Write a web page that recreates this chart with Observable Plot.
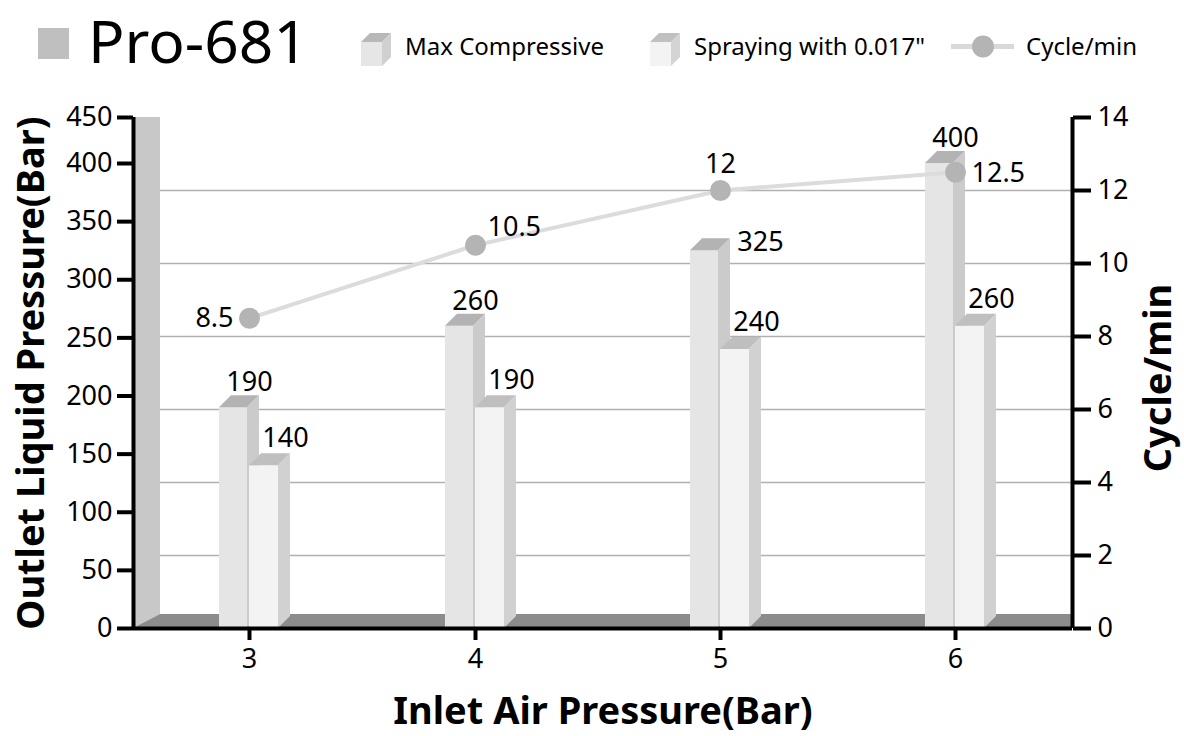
<!DOCTYPE html>
<html><head><meta charset="utf-8">
<script src="https://cdn.jsdelivr.net/npm/d3@7"></script>
<script src="https://cdn.jsdelivr.net/npm/@observablehq/plot@0.6"></script>
<style>
body{margin:0;background:#fff;font-family:"Noto Sans",sans-serif;}
#chart svg{display:block}
</style></head><body>
<div id="chart"></div>
<script>
// ---- data ----
const chartTitle = "Pro-681";
const pressures = [3, 4, 5, 6];
const maxCompressive = [190, 260, 325, 400];
const spraying = [140, 190, 240, 260];
const cycles = [8.5, 10.5, 12, 12.5];
const leftTicks = [0, 50, 100, 150, 200, 250, 300, 350, 400, 450];
const rightTicks = [0, 2, 4, 6, 8, 10, 12, 14];
const xTicks = [3, 4, 5, 6];
const seriesNames = ["Max Compressive", "Spraying with 0.017\"", "Cycle/min"];
const xLabel = "Inlet Air Pressure(Bar)";
const yLabel = "Outlet Liquid Pressure(Bar)";
const y2Label = "Cycle/min";

const rows = pressures.map((p, i) => ({p, max: maxCompressive[i], spray: spraying[i], cycle: cycles[i]}));

// ---- layout ----
const W = 1184, H = 648, HEAD = 88;
const X_DOMAIN = [2.5, 3, 4, 5, 6, 6.5];
const X_RANGE = [133, 249, 475, 720, 955, 1072];
const Y_DOMAIN = [0, 400, 450];
const Y_RANGE = [540, 75, 29];
const Y2_MAX = 14;
const D = 12, WALL = 27, FLOOR = 14;

const xS = Plot.scale({x: {type: "linear", domain: X_DOMAIN, range: X_RANGE}});
const yS = Plot.scale({y: {type: "linear", domain: Y_DOMAIN, range: Y_RANGE}});
const y2px = c => Y_RANGE[0] - c * (Y_RANGE[0] - Y_RANGE[2]) / Y2_MAX;
const cycToY = c => yS.invert(y2px(c));
const yToCyc = v => Math.round((Y_RANGE[0] - yS.apply(v)) * Y2_MAX / (Y_RANGE[0] - Y_RANGE[2]));
const xWallEnd = xS.invert(xS.apply(X_DOMAIN[0]) + WALL);

// ---- header (title + legend) ----
const head = d3.select("#chart").append("svg").attr("width", W).attr("height", HEAD)
  .style("font-family", "'Noto Sans', sans-serif");
head.append("rect").attr("x", 38).attr("y", 28).attr("width", 31).attr("height", 31).attr("fill", "#bfbfbf");
head.append("text").attr("x", 88).attr("y", 63).attr("font-size", 58).attr("textLength", 220)
  .attr("lengthAdjust", "spacingAndGlyphs").text(chartTitle);
function cube(x, front, top, side) {
  const y = 42, w = 21, h = 24, d = 9;
  head.append("path").attr("d", `M${x},${y}L${x+d},${y-d}L${x+w+d},${y-d}L${x+w},${y}Z`).attr("fill", top);
  head.append("path").attr("d", `M${x+w},${y}L${x+w+d},${y-d}L${x+w+d},${y+h-d}L${x+w},${y+h}Z`).attr("fill", side);
  head.append("rect").attr("x", x).attr("y", y).attr("width", w).attr("height", h).attr("fill", front);
}
cube(361, "#e6e6e6", "#b8b8b8", "#d0d0d0");
head.append("text").attr("x", 405).attr("y", 55).attr("font-size", 24).text(seriesNames[0]);
cube(650, "#f3f3f3", "#c0c0c0", "#d4d4d4");
head.append("text").attr("x", 694).attr("y", 55).attr("font-size", 24).text(seriesNames[1]);
head.append("line").attr("x1", 951).attr("x2", 1014).attr("y1", 46.5).attr("y2", 46.5)
  .attr("stroke", "#d9d9d9").attr("stroke-width", 5);
head.append("circle").attr("cx", 983).attr("cy", 46.5).attr("r", 11).attr("fill", "#b4b4b4");
head.append("text").attr("x", 1026).attr("y", 55).attr("font-size", 24).text(seriesNames[2]);

// ---- custom 3D pieces ----
const wallMark = (index, {x, y}) => {
  const x0 = x(X_DOMAIN[0]), yt = y(Y_DOMAIN.at(-1)), yb = y(0);
  const g = d3.create("svg:g");
  g.append("path").attr("d", `M${x0},${yt}L${x0+WALL},${yt}L${x0+WALL},${yb-FLOOR}L${x0},${yb}Z`).attr("fill", "#c8c8c8");
  return g.node();
};
const floorMark = (index, {x, y}) => {
  const x0 = x(X_DOMAIN[0]), x1 = x(X_DOMAIN.at(-1)), yb = y(0);
  const g = d3.create("svg:g");
  g.append("path").attr("d", `M${x0},${yb}L${x0+WALL},${yb-FLOOR}L${x1},${yb-FLOOR}L${x1},${yb}Z`).attr("fill", "#8c8c8c");
  return g.node();
};
function faces(key, off1, off2, topFill, sideFill) {
  return (index, {x, y}) => {
    const g = d3.create("svg:g");
    for (const r of rows) {
      const c = x(r.p), xa = c + off1, xb = c + off2;
      const yt = y(r[key]), yb = y(0);
      g.append("path").attr("d", `M${xa},${yt}L${xa+D},${yt-D}L${xb+D},${yt-D}L${xb},${yt}Z`).attr("fill", topFill);
      g.append("path").attr("d", `M${xb},${yt}L${xb+D},${yt-D}L${xb+D},${yb-D}L${xb},${yb}Z`).attr("fill", sideFill);
    }
    return g.node();
  };
}

const cycleLabelPlace = [
  {textAnchor: "end", dx: -16, dy: 0},
  {textAnchor: "start", dx: 12, dy: -18},
  {textAnchor: "middle", dx: 0, dy: -26},
  {textAnchor: "start", dx: 16, dy: 1}
];

const FS = 27;
const plot = Plot.plot({
  width: W, height: H,
  marginLeft: X_RANGE[0], marginRight: W - X_RANGE.at(-1), marginTop: Y_RANGE[2], marginBottom: H - Y_RANGE[0],
  style: {fontFamily: "'Noto Sans', sans-serif", background: "white", color: "#000", overflow: "visible"},
  x: {type: "linear", domain: X_DOMAIN, range: X_RANGE},
  y: {type: "linear", domain: Y_DOMAIN, range: Y_RANGE},
  marks: [
    Plot.ruleY(rightTicks.filter(t => t > 0 && t < Y2_MAX), {y: cycToY, x1: xWallEnd, x2: X_DOMAIN.at(-1), stroke: "#b0b0b0", strokeWidth: 1.6}),
    wallMark,
    floorMark,
    // Max Compressive bars
    Plot.rect(rows, {x1: "p", x2: "p", y1: 0, y2: "max", insetLeft: -30, insetRight: 2, fill: "#e5e5e5"}),
    faces("max", -30, -2, "#b3b3b3", "#cbcbcb"),
    // Spraying bars
    Plot.rect(rows, {x1: "p", x2: "p", y1: 0, y2: "spray", insetLeft: 0, insetRight: -29, fill: "#f3f3f3"}),
    faces("spray", 0, 29, "#bfbfbf", "#d1d1d1"),
    // cycle line
    Plot.line(rows, {x: "p", y: d => cycToY(d.cycle), stroke: "#dcdcdc", strokeWidth: 4}),
    Plot.dot(rows, {x: "p", y: d => cycToY(d.cycle), r: 10.5, fill: "#b4b4b4", stroke: "none"}),
    // value labels
    Plot.text(rows.filter(r => r.p !== 5), {x: "p", y: "max", text: d => String(d.max), dy: -25, fontSize: FS, fill: "#000"}),
    Plot.text(rows.filter(r => r.p === 5), {x: "p", y: "max", text: d => String(d.max), dx: 40, dy: -8, fontSize: FS, fill: "#000"}),
    Plot.text(rows, {x: "p", y: "spray", text: d => String(d.spray), dx: 36, dy: -27, fontSize: FS, fill: "#000"}),
    ...cycleLabelPlace.map((o, i) => Plot.text([rows[i]], {x: "p", y: d => cycToY(d.cycle), text: d => String(d.cycle), fontSize: FS, fill: "#000", ...o})),
    // frame
    Plot.ruleX([X_DOMAIN[0], X_DOMAIN.at(-1)], {stroke: "#000", strokeWidth: 4}),
    Plot.ruleY([0], {stroke: "#000", strokeWidth: 4}),
    // axes
    Plot.axisY(leftTicks, {anchor: "left", tickSize: 16, tickPadding: 5, strokeWidth: 4, stroke: "#000", fill: "#000", fontSize: FS, label: null}),
    Plot.axisY(rightTicks.map(cycToY), {anchor: "right", tickSize: 18, tickPadding: 7, strokeWidth: 4, stroke: "#000", fill: "#000", fontSize: FS, label: null, tickFormat: d => String(yToCyc(d))}),
    Plot.axisX(xTicks, {anchor: "bottom", tickSize: 12, tickPadding: 8, strokeWidth: 4, stroke: "#000", fill: "#000", fontSize: FS, label: null, tickFormat: d => String(d)}),
    // titles
    Plot.text([yLabel], {frameAnchor: "left", textAnchor: "middle", text: d => d, rotate: -90, dx: -102, fontSize: 38, fontWeight: "bold", fill: "#000"}),
    Plot.text([y2Label], {frameAnchor: "right", textAnchor: "middle", text: d => d, rotate: -90, dx: 86, dy: 5, fontSize: 38, fontWeight: "bold", fill: "#000"}),
    Plot.text([xLabel], {frameAnchor: "bottom", textAnchor: "middle", text: d => d, dy: 95, fontSize: 38, fontWeight: "bold", fill: "#000"})
  ]
});
document.getElementById("chart").appendChild(plot);
</script></body></html>
